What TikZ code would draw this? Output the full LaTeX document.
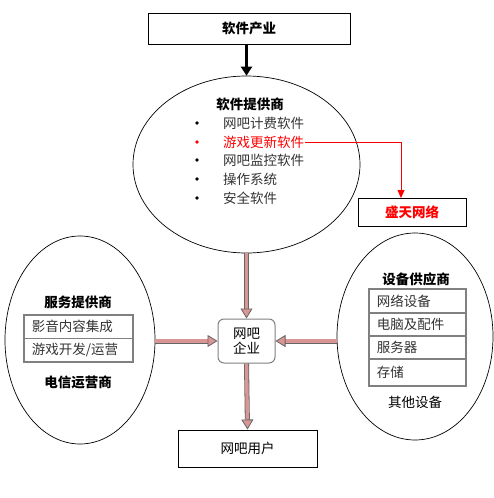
\documentclass[tikz,border=0pt]{standalone}
\usepackage{fontspec}
\setmainfont{Noto Sans CJK SC}
\usetikzlibrary{arrows.meta,shapes.geometric}
\definecolor{pinkc}{RGB}{217,150,148}
\definecolor{grayb}{RGB}{128,128,128}
\tikzset{
  box/.style={draw=black, line width=1pt, inner sep=0pt},
  ell/.style={draw=black, ellipse, line width=0.7pt, inner sep=0pt},
  graybox/.style={draw=grayb, line width=1.6pt, inner ysep=0pt, inner xsep=8pt, align=left, anchor=north west, text=black!80},
  dotb/.style={circle, fill=black, inner sep=0pt, minimum size=3.6pt},
  item/.style={anchor=west, inner sep=1pt, text=black!80},
  ttl/.style={font=\fontsize{13.5}{16}\selectfont\bfseries},
  pinkarrow/.style={draw=black!60, double=pinkc, double distance=3.4pt, line width=0.8pt,
     -{Triangle[length=10pt,width=12pt,fill=pinkc]}},
}
\begin{document}
\begin{tikzpicture}[x=1pt,y=-1pt, font=\fontsize{13.5}{16}\selectfont]
\useasboundingbox (0,0) rectangle (494,498);
% top
\node[box, minimum width=202, minimum height=31, ttl] (ind) at (249,28.5) {软件产业};
\node[ell, minimum width=227, minimum height=177] (sp) at (246.5,164.5) {};
\node[ttl] (spt) at (250,104) {软件提供商};
\node[item] (i1) at (222,123) {网吧计费软件};
\node[item, text=red] (i2) at (222,142) {游戏更新软件};
\node[item] (i3) at (222,160) {网吧监控软件};
\node[item] (i4) at (222,179) {操作系统};
\node[item] (i5) at (222,198) {安全软件};
\node[dotb] (b1) at (197,123) {};
\node[dotb, fill=red] (b2) at (197,142) {};
\node[dotb] (b3) at (197,160) {};
\node[dotb] (b4) at (197,179) {};
\node[dotb] (b5) at (197,198) {};
\draw[line width=3.2pt, -{Triangle[length=9pt,width=11pt]}] (sp.north |- ind.south) -- (sp.north);
% shengtian
\node[box, minimum width=108, minimum height=28, ttl, text=red] (st) at (412,212) {盛天网络};
\coordinate (stin) at (401,198);
\draw[red, line width=0.8pt, -{Triangle[length=8pt,width=7pt]}] (i2.east) -| (stin);
% left
\node[ell, minimum width=150, minimum height=208] (le) at (80,340) {};
\node[ttl] (let) at (78,302) {服务提供商};
\node[graybox, minimum width=109, text width=93, minimum height=23.5] (l1) at (23,314) {影音内容集成};
\node[graybox, minimum width=109, text width=93, minimum height=23.5] (l2) at (23,337.5) {游戏开发/运营};
\node[ttl] (leb) at (78,382) {电信运营商};
% right
\node[ell, minimum width=156, minimum height=207] (re) at (415,336.5) {};
\node[ttl] (ret) at (416,279) {设备供应商};
\node[graybox, minimum width=97, text width=81, minimum height=24] (r1) at (368,288) {网络设备};
\node[graybox, minimum width=97, text width=81, minimum height=23] (r2) at (368,312) {电脑及配件};
\node[graybox, minimum width=97, text width=81, minimum height=23] (r3) at (368,335) {服务器};
\node[graybox, minimum width=97, text width=81, minimum height=27] (r4) at (368,358) {存储};
\node (reb) at (415,402) {其他设备};
% center
\node[draw=grayb, line width=1pt, rounded corners=6pt, minimum width=57, minimum height=44, align=center, inner sep=0pt] (ent) at (246.5,341) {网吧\\[-1pt]企业};
\node[box, minimum width=139, minimum height=37] (usr) at (247.5,448.5) {网吧用户};
% arrows
\draw[pinkarrow] (sp.south) -- (ent.north);
\draw[pinkarrow] (le.east |- ent) -- (ent.west);
\draw[pinkarrow] (re.west |- ent) -- (ent.east);
\draw[pinkarrow] (ent.south) -- (usr.north);
\end{tikzpicture}
\end{document}
